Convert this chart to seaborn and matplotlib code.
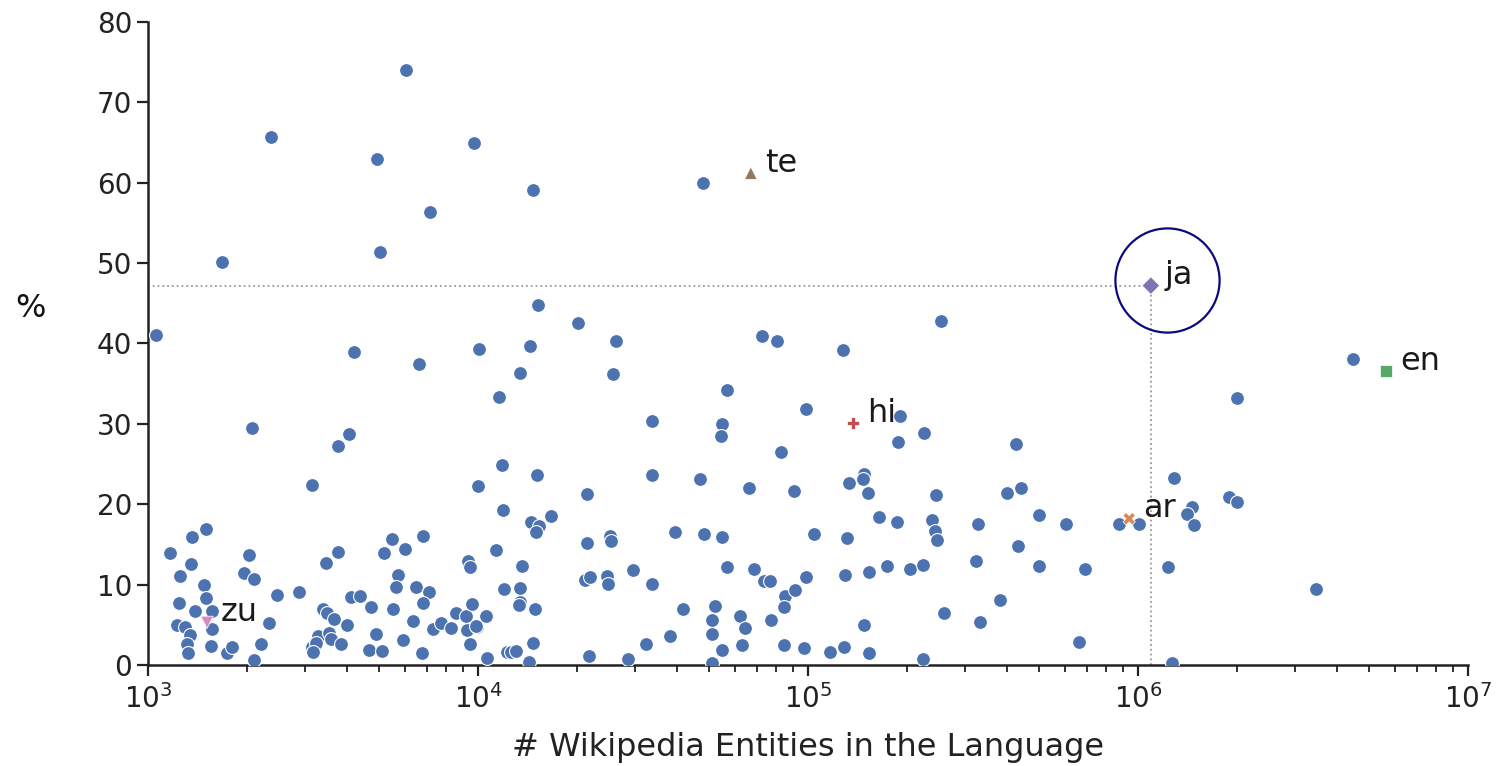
import numpy as np
import pandas as pd
import matplotlib
matplotlib.use("Agg")
import matplotlib.pyplot as plt
import seaborn as sns

# Number of Wikipedia entities per language and percentage value
entities = [
    1060, 2360, 1675, 2066, 4940, 5050, 6050, 7160, 9730, 14680,
    48100, 4210, 4070, 3770, 3140, 6620, 10070, 11590, 10000, 13390,
    14370, 15200, 20100, 26190, 25640, 33650, 11830, 15100, 11910, 16630,
    14490, 15300, 15000, 21380, 33650, 47100, 56900, 54900, 54500, 72600,
    80600, 98600, 127700, 82800, 66200, 90700, 190000, 187500, 224800, 252900,
    148000, 146800, 133000, 152000, 244300, 426600, 441900, 400600, 1995000, 1888000,
    1995000, 1286000, 1459000, 1406000, 1479000, 1007000, 1233000, 3460000, 1270000, 875000,
    501000, 605000, 327000, 237600, 242400, 246000, 164000, 186000, 104200, 131200,
    173400, 153000, 203700, 222800, 322800, 501000, 690500, 432700, 381700, 331700,
    258200, 662000, 222800, 148000, 153000, 116700, 128600, 129300, 4490000,
    1166, 1360, 1500, 1350, 1250, 1479, 1500, 1241, 1388, 1563,
    1223, 1295, 1340, 1563, 1313, 1321, 1552, 1734, 1798, 2023,
    1954, 2094, 2460, 2869, 2327, 2198, 2094, 3460, 3765, 3390,
    3485, 3664, 4010, 3275, 3529, 3586, 3140, 3230, 3160, 3845,
    4120, 4385, 4740, 5190, 5485, 6010, 6810, 5730, 5650, 5520,
    6490, 7110, 6810, 6350, 4910, 4680, 5120, 5930, 6760, 7310,
    7730, 8280, 8580, 9200, 9330, 9470, 9600, 9260, 9930, 9470,
    11350, 13590, 11990, 13390, 13390, 13300, 14890, 10570, 9860, 10640,
    12240, 12580, 13040, 14680, 14290, 21380, 25120, 25300, 21090, 21830,
    24600, 24770, 29510, 33650, 39540, 48440, 54900, 56900, 68500, 73600,
    76700, 98600, 41800, 52200, 51200, 51200, 62200, 64400, 77300, 85100,
    84500, 91400, 38200, 32300, 21680, 28500, 54900, 63100, 84500, 97200,
    51200,
]
percent = [
    41.0, 65.7, 50.1, 29.5, 63.0, 51.4, 74.0, 56.4, 65.0, 59.1,
    60.0, 38.9, 28.8, 27.2, 22.4, 37.4, 39.3, 33.3, 22.3, 36.3,
    39.7, 44.8, 42.5, 40.3, 36.2, 30.4, 24.9, 23.6, 19.3, 18.5,
    17.8, 17.3, 16.5, 21.3, 23.7, 23.1, 34.2, 30.0, 28.5, 40.9,
    40.3, 31.9, 39.2, 26.5, 22.0, 21.6, 31.0, 27.7, 28.9, 42.8,
    23.8, 23.2, 22.7, 21.4, 21.1, 27.5, 22.0, 21.4, 33.2, 20.9,
    20.3, 23.3, 19.7, 18.8, 17.4, 17.6, 12.2, 9.5, 0.25, 17.5,
    18.7, 17.6, 17.5, 18.1, 16.7, 15.6, 18.4, 17.8, 16.3, 15.8,
    12.3, 11.6, 12.0, 12.4, 12.9, 12.3, 11.9, 14.8, 8.1, 5.3,
    6.5, 2.9, 0.7, 5.0, 1.5, 1.6, 2.2, 11.2, 38.1,
    13.9, 15.9, 16.9, 12.6, 11.1, 9.95, 8.3, 7.7, 6.7, 6.7,
    5.0, 4.7, 3.7, 4.5, 2.6, 1.5, 2.4, 1.5, 2.2, 13.7,
    11.4, 10.7, 8.7, 9.1, 5.2, 2.6, 0.6, 12.7, 14.1, 7.0,
    6.5, 5.7, 5.0, 3.6, 4.0, 3.2, 2.2, 2.7, 1.6, 2.6,
    8.5, 8.6, 7.2, 13.9, 15.7, 14.4, 16.0, 11.2, 9.7, 7.0,
    9.7, 9.1, 7.7, 5.5, 3.9, 1.9, 1.8, 3.1, 1.5, 4.5,
    5.2, 4.6, 6.5, 6.1, 12.9, 12.2, 7.6, 4.4, 4.7, 2.6,
    14.3, 12.3, 9.4, 9.6, 7.9, 7.5, 7.0, 6.1, 4.9, 0.9,
    1.6, 1.6, 1.7, 2.7, 0.4, 15.2, 16.0, 15.4, 10.6, 10.9,
    11.1, 10.1, 11.8, 10.1, 16.5, 16.3, 15.9, 12.2, 12.0, 10.4,
    10.5, 11.0, 7.0, 7.3, 5.6, 3.9, 6.1, 4.6, 5.6, 8.6,
    7.2, 9.3, 3.6, 2.6, 1.1, 0.7, 1.9, 2.5, 2.5, 2.1,
    0.25,
]

# Highlighted languages
hl_langs = ["ar", "en", "hi", "ja", "te", "zu"]
hl_entities = [940000, 5650000, 137000, 1094000, 67100, 1510]
hl_percent = [18.2, 36.6, 30.1, 47.2, 61.2, 5.3]

x_ticks = [1e3, 1e4, 1e5, 1e6, 1e7]
y_ticks = [0, 10, 20, 30, 40, 50, 60, 70, 80]

sns.set_theme(style="ticks", palette="deep")
plt.rcParams["font.family"] = ["DejaVu Sans"]

pal = sns.color_palette("deep")
lang_colors = dict(zip(["other"] + hl_langs, pal[:7]))
lang_markers = {"other": "o", "ar": "X", "en": "s", "hi": "P",
                "ja": "D", "te": "^", "zu": "v"}

df_other = pd.DataFrame({"entities": entities, "percent": percent, "lang": "other"})
df_hl = pd.DataFrame({"entities": hl_entities, "percent": hl_percent, "lang": hl_langs})

fig = plt.figure(figsize=(14.96, 7.66), dpi=100)
ax = fig.add_axes([148 / 1496, 1 - 665 / 766, 1320 / 1496, 643 / 766])

sns.scatterplot(data=df_other, x="entities", y="percent", ax=ax,
                color=lang_colors["other"], marker="o", s=100,
                edgecolor="white", linewidth=0.8, legend=False, zorder=3)
sns.scatterplot(data=df_hl, x="entities", y="percent", hue="lang", style="lang",
                palette=lang_colors, markers=lang_markers, s=80,
                hue_order=hl_langs, style_order=hl_langs,
                edgecolor="white", linewidth=0.5, legend=False, ax=ax, zorder=4)

ax.set_xscale("log")
ax.set_xlim(x_ticks[0], x_ticks[-1])
ax.set_ylim(y_ticks[0], y_ticks[-1])
ax.set_yticks(y_ticks)

# Reference guides for the Japanese point
ja_x = hl_entities[hl_langs.index("ja")]
ja_y = hl_percent[hl_langs.index("ja")]
ax.plot([x_ticks[0], ja_x], [ja_y, ja_y], linestyle=":", color="#999999", lw=1.3, zorder=2)
ax.plot([ja_x, ja_x], [0, ja_y], linestyle=":", color="#999999", lw=1.3, zorder=2)
ax.plot([ja_x * 1.12], [ja_y + 0.7], marker="o", markersize=75, markerfacecolor="none",
        markeredgecolor="#0b0b80", markeredgewidth=1.6, zorder=5, clip_on=False)

for lang, xv, yv in zip(hl_langs, hl_entities, hl_percent):
    ax.annotate(lang, (xv, yv), xytext=(10, 7), textcoords="offset points",
                fontsize=23, color="#1a1a1a", ha="left", va="center")

ax.set_xlabel("# Wikipedia Entities in the Language", fontsize=23, labelpad=13, color="#222222")
ax.set_ylabel("%", fontsize=23, rotation=0, color="#111111")
ax.yaxis.set_label_coords(-0.089, 0.53)

ax.tick_params(axis="both", which="major", labelsize=20, length=8, width=1.6,
               colors="#222222")
ax.tick_params(axis="x", which="minor", length=5, width=1.3, colors="#222222")
ax.tick_params(axis="x", which="major", pad=6)
for side in ["left", "bottom"]:
    ax.spines[side].set_linewidth(1.8)
    ax.spines[side].set_color("#222222")
sns.despine(ax=ax)

fig.savefig("out.png", dpi=100)
